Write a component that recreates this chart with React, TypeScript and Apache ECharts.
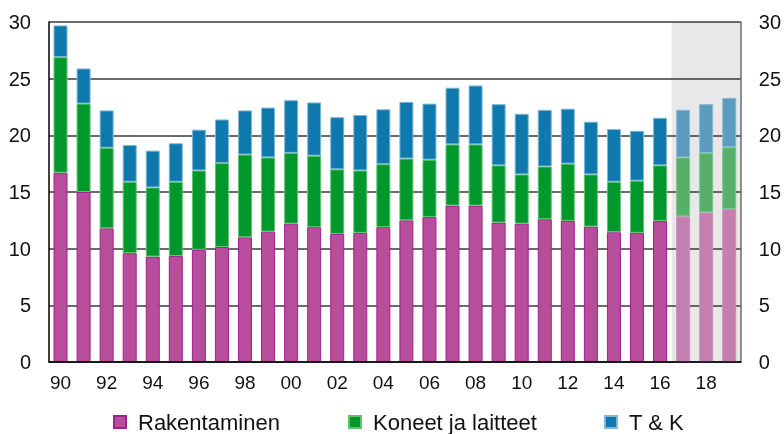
import React, { useEffect, useRef } from "react";
import * as echarts from "echarts";

const years = [
  "90", "91", "92", "93", "94", "95", "96", "97", "98", "99",
  "00", "01", "02", "03", "04", "05", "06", "07", "08", "09",
  "10", "11", "12", "13", "14", "15", "16", "17", "18", "19",
];
const forecastFrom = "17";

const rakentaminen = [
  16.7, 15.0, 11.8, 9.6, 9.3, 9.35, 9.9, 10.15, 11.0, 11.5,
  12.2, 11.9, 11.3, 11.4, 11.9, 12.5, 12.8, 13.8, 13.8, 12.3,
  12.2, 12.6, 12.45, 11.95, 11.45, 11.4, 12.45, 12.85, 13.2, 13.5,
];
const koneet = [
  10.2, 7.8, 7.1, 6.3, 6.1, 6.55, 7.0, 7.4, 7.3, 6.55,
  6.25, 6.3, 5.7, 5.5, 5.55, 5.45, 5.05, 5.4, 5.4, 5.05,
  4.35, 4.65, 5.05, 4.6, 4.45, 4.6, 4.9, 5.2, 5.25, 5.45,
];
const tk = [
  2.8, 3.1, 3.3, 3.25, 3.25, 3.4, 3.6, 3.85, 3.9, 4.4,
  4.65, 4.7, 4.6, 4.9, 4.85, 5.0, 4.95, 5.0, 5.2, 5.4,
  5.35, 5.0, 4.85, 4.65, 4.65, 4.4, 4.2, 4.2, 4.3, 4.35,
];
const yTicks = [0, 5, 10, 15, 20, 25, 30];

const Y_MAX = 30;
const FONT = "Liberation Sans, Arial, sans-serif";

export default function App() {
  const ref = useRef<HTMLDivElement>(null);
  useEffect(() => {
    if (!ref.current) return;
    const chart = echarts.init(ref.current, null, { renderer: "svg" });
    const startIdx = years.indexOf(forecastFrom);
    const isFc = (i: number) => i >= startIdx;

    const mk = (vals: number[], fcColor: string, fcBorder: string) =>
      vals.map((v, i) =>
        isFc(i)
          ? { value: v, itemStyle: { color: fcColor, borderColor: fcBorder } }
          : v
      );

    const yAxisBase = {
      type: "value",
      min: 0,
      max: Y_MAX,
      interval: 5,
      axisTick: { show: false },
    };

    const legendText = {
      fontSize: 22,
      color: "#111",
      fontFamily: FONT,
      padding: [0, 0, 0, 7],
    };
    const legendBase = {
      top: 411,
      padding: 0,
      icon: "rect",
      itemWidth: 12,
      itemHeight: 12,
      textStyle: legendText,
      selectedMode: false,
    };

    chart.setOption({
      animation: false,
      textStyle: { fontFamily: FONT },
      grid: { left: 49, right: 41, top: 22, bottom: 72, containLabel: false },
      legend: [
        { ...legendBase, data: ["Rakentaminen"], left: 113 },
        { ...legendBase, data: ["Koneet ja laitteet"], left: 348 },
        { ...legendBase, data: ["T & K"], left: 604 },
      ],
      xAxis: {
        type: "category",
        data: years,
        axisTick: { show: false },
        axisLine: { show: true, lineStyle: { color: "#000", width: 1.5 } },
        axisLabel: {
          interval: 1,
          fontSize: 19,
          color: "#111",
          margin: 11,
          fontFamily: FONT,
        },
        z: 3,
      },
      yAxis: [
        {
          ...yAxisBase,
          position: "left",
          z: 1,
          axisLine: { show: true, lineStyle: { color: "#000", width: 1.5 } },
          splitLine: { show: true, lineStyle: { color: "#3a3a3a", width: 1.5 } },
          axisLabel: {
            fontSize: 20,
            color: "#111",
            margin: 18,
            fontFamily: FONT,
            formatter: (v: number) => (yTicks.includes(v) ? String(v) : ""),
          },
        },
        {
          ...yAxisBase,
          position: "right",
          z: 1,
          axisLine: { show: true, lineStyle: { color: "#6a6a6a", width: 1.5 } },
          splitLine: { show: false },
          axisLabel: {
            fontSize: 20,
            color: "#111",
            margin: 18,
            fontFamily: FONT,
            formatter: (v: number) => (yTicks.includes(v) ? String(v) : ""),
          },
        },
      ],
      series: [
        {
          name: "shade",
          type: "custom",
          silent: true,
          z: 0,
          data: [[startIdx, 0]],
          renderItem: (params: any, api: any) => {
            const cs = params.coordSys;
            const c = api.coord([api.value(0), 0]);
            const band = api.size([1, 0])[0];
            const x0 = c[0] - band / 2;
            return {
              type: "rect",
              shape: { x: x0, y: cs.y, width: cs.x + cs.width - x0, height: cs.height },
              style: { fill: "#e8e8e8" },
            };
          },
        },
        {
          name: "Rakentaminen",
          type: "bar",
          stack: "a",
          barWidth: 14,
          z: 2,
          data: mk(rakentaminen, "#c47eb0", "#c890bb"),
          itemStyle: { color: "#b84e9b", borderColor: "#a0208f", borderWidth: 1 },
        },
        {
          name: "Koneet ja laitteet",
          type: "bar",
          stack: "a",
          barWidth: 14,
          z: 2,
          data: mk(koneet, "#56b06a", "#7cc48b"),
          itemStyle: { color: "#00982c", borderColor: "#5fc46e", borderWidth: 1 },
        },
        {
          name: "T & K",
          type: "bar",
          stack: "a",
          barWidth: 14,
          z: 2,
          data: mk(tk, "#5b9cbe", "#8ab8d2"),
          itemStyle: { color: "#0f78ac", borderColor: "#7fb8d8", borderWidth: 1 },
        },
      ],
    });
    return () => chart.dispose();
  }, []);
  return (
    <div
      ref={ref}
      style={{ position: "fixed", left: 0, top: 0, width: 784, height: 434 }}
    />
  );
}
